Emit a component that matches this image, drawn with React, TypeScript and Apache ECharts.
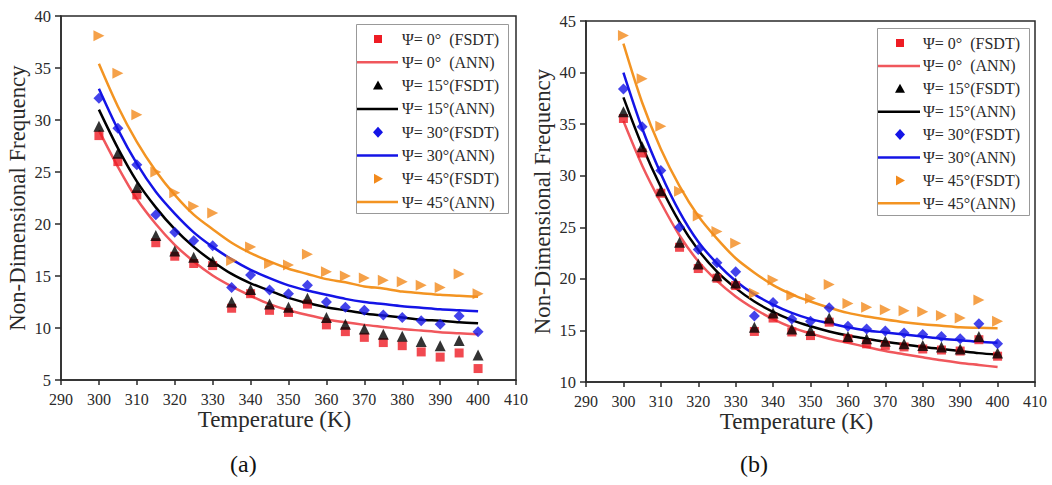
import React, { useEffect, useRef } from "react";
import * as echarts from "echarts";

const temps = [300, 305, 310, 315, 320, 325, 330, 335, 340, 345, 350, 355, 360, 365, 370, 375, 380, 385, 390, 395, 400];

const seriesNames = [
  "Ψ= 0°  (FSDT)",
  "Ψ= 0°  (ANN)",
  "Ψ= 15°(FSDT)",
  "Ψ= 15°(ANN)",
  "Ψ= 30°(FSDT)",
  "Ψ= 30°(ANN)",
  "Ψ= 45°(FSDT)",
  "Ψ= 45°(ANN)",
];

// Panel (a)
const a_fsdt0 = [28.5, 26.0, 22.8, 18.2, 16.9, 16.2, 16.0, 11.9, 13.3, 11.7, 11.5, 12.3, 10.3, 9.65, 9.1, 8.6, 8.3, 7.7, 7.2, 7.6, 6.1];
const a_fsdt15 = [29.4, 26.8, 23.5, 18.9, 17.4, 16.8, 16.4, 12.5, 13.7, 12.3, 12.0, 12.85, 11.0, 10.35, 9.9, 9.4, 9.2, 8.7, 8.3, 8.8, 7.4];
const a_fsdt30 = [32.1, 29.2, 25.7, 20.9, 19.2, 18.4, 17.9, 13.9, 15.1, 13.65, 13.3, 14.1, 12.5, 12.0, 11.7, 11.25, 11.0, 10.7, 10.35, 11.15, 9.65];
const a_fsdt45 = [38.1, 34.5, 30.5, 25.0, 23.0, 21.7, 21.05, 16.5, 17.8, 16.2, 16.06, 17.1, 15.4, 15.0, 14.8, 14.6, 14.45, 14.1, 13.9, 15.2, 13.3];
const a_ann0 = [29.0, 25.5, 22.4, 20.0, 18.0, 16.4, 15.05, 14.0, 13.1, 12.3, 11.7, 11.25, 10.85, 10.55, 10.3, 10.1, 9.9, 9.75, 9.6, 9.5, 9.4];
const a_ann15 = [31.0, 27.3, 24.1, 21.6, 19.5, 17.8, 16.4, 15.2, 14.3, 13.6, 12.9, 12.4, 12.0, 11.7, 11.4, 11.2, 11.0, 10.8, 10.7, 10.55, 10.45];
const a_ann30 = [33.0, 29.1, 25.8, 23.1, 21.0, 19.2, 17.8, 16.6, 15.6, 14.8, 14.1, 13.6, 13.2, 12.8, 12.5, 12.3, 12.1, 11.95, 11.8, 11.7, 11.6];
const a_ann45 = [35.4, 31.3, 27.9, 25.1, 22.8, 20.9, 19.5, 18.2, 17.2, 16.4, 15.7, 15.2, 14.7, 14.4, 14.0, 13.8, 13.5, 13.35, 13.2, 13.1, 13.0];

// Panel (b)
const b_fsdt0 = [35.55, 32.2, 28.3, 23.06, 21.0, 20.06, 19.35, 14.9, 16.2, 14.85, 14.5, 15.8, 14.2, 13.7, 13.55, 13.4, 13.2, 13.1, 13.0, 14.1, 12.5];
const b_fsdt15 = [36.2, 32.8, 28.55, 23.55, 21.45, 20.3, 19.6, 15.3, 16.7, 15.15, 15.0, 16.2, 14.4, 14.2, 13.95, 13.7, 13.55, 13.4, 13.2, 14.4, 12.8];
const b_fsdt30 = [38.4, 34.75, 30.5, 25.0, 22.85, 21.55, 20.7, 16.4, 17.7, 16.1, 15.9, 17.2, 15.4, 15.15, 14.95, 14.75, 14.6, 14.4, 14.2, 15.65, 13.7];
const b_fsdt45 = [43.6, 39.4, 34.8, 28.5, 26.1, 24.6, 23.45, 18.6, 19.9, 18.4, 18.1, 19.45, 17.6, 17.25, 17.0, 16.9, 16.8, 16.45, 16.2, 17.95, 15.9];
const b_ann0 = [35.3, 31.0, 27.4, 24.2, 21.7, 19.8, 18.3, 17.1, 16.1, 15.3, 14.7, 14.2, 13.8, 13.4, 13.0, 12.7, 12.4, 12.1, 11.85, 11.65, 11.45];
const b_ann15 = [37.6, 32.9, 28.9, 25.5, 22.8, 20.7, 19.1, 17.8, 16.8, 16.0, 15.4, 14.9, 14.5, 14.2, 13.9, 13.65, 13.4, 13.2, 13.0, 12.8, 12.65];
const b_ann30 = [40.0, 34.6, 30.2, 26.5, 23.6, 21.5, 19.8, 18.5, 17.5, 16.7, 16.1, 15.7, 15.3, 15.0, 14.8, 14.6, 14.4, 14.2, 14.05, 13.9, 13.8];
const b_ann45 = [42.8, 37.1, 32.6, 29.0, 26.1, 23.9, 22.0, 20.6, 19.4, 18.5, 17.8, 17.2, 16.7, 16.35, 16.06, 15.8, 15.6, 15.45, 15.3, 15.25, 15.2];

const xTicks = { min: 290, max: 410, interval: 10 };
const yTicksA = { min: 5, max: 40, interval: 5 };
const yTicksB = { min: 10, max: 45, interval: 5 };

const FONT = "Liberation Serif";
const AX = "#2a2a2a";

const markerColors = ["#ee1c24", "#000000", "#1414e6", "#f28a1c"];
const lineColors = ["#f0575c", "#000000", "#1414e6", "#f39422"];
const symbols = ["rect", "triangle", "diamond", "triangle"];
const symbolSizes = [9, 11, 11, 11];
const symbolRotates = [0, 0, 0, -90];

const pair = (vals: number[]) => temps.map((t, i) => [t, vals[i]]);

function buildSeries(idx: number, fsdt: number[][], ann: number[][]) {
  const out: any[] = [];
  for (let k = 0; k < 4; k++) {
    out.push({
      type: "line",
      name: seriesNames[k * 2 + 1],
      xAxisIndex: idx,
      yAxisIndex: idx,
      data: pair(ann[k]),
      symbol: "none",
      smooth: 0.3,
      lineStyle: { color: lineColors[k], width: 2.5 },
      itemStyle: { color: lineColors[k] },
      z: 3,
    });
  }
  for (let k = 0; k < 4; k++) {
    out.push({
      type: "scatter",
      name: seriesNames[k * 2],
      xAxisIndex: idx,
      yAxisIndex: idx,
      data: pair(fsdt[k]),
      symbol: symbols[k],
      symbolSize: symbolSizes[k],
      symbolRotate: symbolRotates[k],
      itemStyle: { color: markerColors[k] },
      z: 4,
    });
  }
  return out;
}

function xAxis(gridIndex: number) {
  return {
    type: "value",
    gridIndex,
    ...xTicks,
    axisLine: { show: true, onZero: false, lineStyle: { color: AX, width: 1.5 } },
    axisTick: { show: true, inside: false, length: 5, lineStyle: { color: AX, width: 1.5 } },
    axisLabel: { color: AX, fontFamily: FONT, fontSize: 16, margin: 11 },
    splitLine: { show: false },
    name: "Temperature (K)",
    nameLocation: "middle",
    nameGap: 28,
    nameMoveOverlap: false,
    nameTextStyle: { fontFamily: FONT, fontSize: 23, color: AX, padding: [0, 28, 0, 0] },
  };
}

function yAxis(gridIndex: number, ticks: any) {
  return {
    type: "value",
    gridIndex,
    ...ticks,
    axisLine: { show: true, onZero: false, lineStyle: { color: AX, width: 1.5 } },
    axisTick: { show: true, inside: false, length: 6, lineStyle: { color: AX, width: 1.5 } },
    axisLabel: { color: AX, fontFamily: FONT, fontSize: 16.5, margin: 10 },
    splitLine: { show: false },
    name: "Non-Dimensional Frequency",
    nameLocation: "middle",
    nameGap: 32,
    nameMoveOverlap: false,
    nameTextStyle: { fontFamily: FONT, fontSize: 22.8, color: AX },
  };
}

// hand-drawn legend box (icons + texts)
function legendGraphics(box: { x: number; y: number; w: number; h: number }, firstRow: number, pitch: number, lineX0: number, lineX1: number, iconX: number, textX: number) {
  const els: any[] = [
    { type: "rect", shape: { x: box.x, y: box.y, width: box.w, height: box.h }, style: { fill: "#fff", stroke: "#999", lineWidth: 1 }, z: 10 },
  ];
  for (let i = 0; i < 8; i++) {
    const cy = firstRow + i * pitch;
    const k = Math.floor(i / 2);
    if (i % 2 === 1) {
      els.push({ type: "line", shape: { x1: lineX0, y1: cy, x2: lineX1, y2: cy }, style: { stroke: lineColors[k], lineWidth: 2.5 }, z: 11 });
    } else {
      const c = markerColors[k];
      if (k === 0) {
        els.push({ type: "rect", shape: { x: iconX - 4, y: cy - 4, width: 8, height: 8 }, style: { fill: c }, z: 11 });
      } else if (k === 1) {
        els.push({ type: "polygon", shape: { points: [[iconX, cy - 5], [iconX + 5, cy + 4], [iconX - 5, cy + 4]] }, style: { fill: c }, z: 11 });
      } else if (k === 2) {
        els.push({ type: "polygon", shape: { points: [[iconX, cy - 5.5], [iconX + 5, cy], [iconX, cy + 5.5], [iconX - 5, cy]] }, style: { fill: c }, z: 11 });
      } else {
        els.push({ type: "polygon", shape: { points: [[iconX - 4, cy - 5], [iconX + 5, cy], [iconX - 4, cy + 5]] }, style: { fill: c }, z: 11 });
      }
    }
    els.push({
      type: "text",
      x: textX,
      y: cy,
      style: { text: seriesNames[i], fontFamily: FONT, fontSize: 16, fill: AX, textVerticalAlign: "middle", verticalAlign: "middle" },
      z: 11,
    });
  }
  return els;
}

export default function App() {
  const ref = useRef<HTMLDivElement>(null);
  useEffect(() => {
    if (!ref.current) return;
    const chart = echarts.init(ref.current, undefined, { renderer: "svg" });
    const option: any = {
      animation: false,
      backgroundColor: "#fff",
      grid: [
        { left: 61, top: 16, width: 455, height: 364, show: true, borderColor: AX, borderWidth: 1.5 },
        { left: 586, top: 21, width: 449, height: 361, show: true, borderColor: AX, borderWidth: 1.5 },
      ],
      xAxis: [xAxis(0), xAxis(1)],
      yAxis: [yAxis(0, yTicksA), yAxis(1, yTicksB)],
      series: [
        ...buildSeries(0, [a_fsdt0, a_fsdt15, a_fsdt30, a_fsdt45], [a_ann0, a_ann15, a_ann30, a_ann45]),
        ...buildSeries(1, [b_fsdt0, b_fsdt15, b_fsdt30, b_fsdt45], [b_ann0, b_ann15, b_ann30, b_ann45]),
      ],
      graphic: [
        ...legendGraphics({ x: 356.5, y: 24.5, w: 152, h: 189 }, 39, 23.3, 357, 398, 378, 402),
        ...legendGraphics({ x: 877.5, y: 28.5, w: 152, h: 187 }, 43, 22.9, 878, 920, 900, 923),
        { type: "text", left: 230, top: 452, style: { text: "(a)", fontFamily: FONT, fontSize: 24, fill: "#111" } },
        { type: "text", left: 740, top: 452, style: { text: "(b)", fontFamily: FONT, fontSize: 24, fill: "#111" } },
      ],
    };
    chart.setOption(option);
    return () => chart.dispose();
  }, []);
  return <div ref={ref} style={{ position: "fixed", left: 0, top: 0, width: 1052, height: 485 }} />;
}
